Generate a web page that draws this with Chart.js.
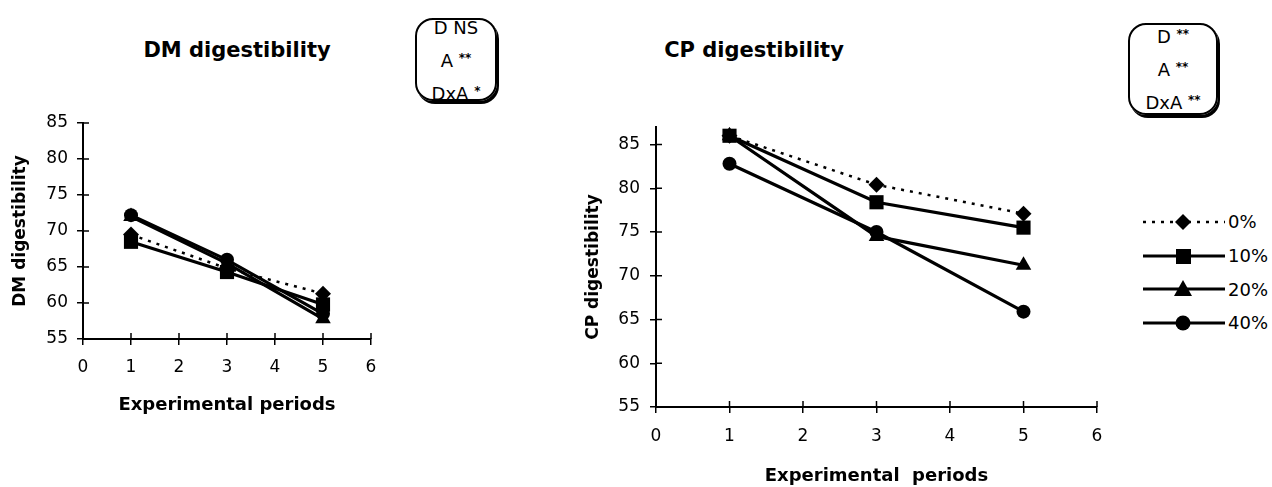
<!DOCTYPE html>
<html><head><meta charset="utf-8">
<script src="https://cdn.jsdelivr.net/npm/chart.js@4.4.1/dist/chart.umd.min.js"></script>
<style>
html,body{margin:0;padding:0;background:#fff;}
body{width:1272px;height:487px;position:relative;overflow:hidden;font-family:"DejaVu Sans",sans-serif;color:#000;}
.title{position:absolute;font-weight:bold;font-size:21px;white-space:nowrap;transform:translate(-50%,-50%);}
.box{position:absolute;border:2px solid #000;border-radius:18px;box-shadow:2px 3px 0 #000;text-align:center;font-size:18px;line-height:31px;box-sizing:border-box;overflow:visible;}
.box .in{position:relative;}
.box sup{font-size:12px;vertical-align:5px;font-weight:bold;}
.cw{position:absolute;top:0;height:487px;}
#legend{position:absolute;left:1141px;top:205px;}
.lrow{height:33.7px;display:flex;align-items:center;font-size:18px;}
.lrow svg{margin-right:1px;}
</style>
</head><body>
<div class="title" style="left:237px;top:50px;">DM digestibility</div>
<div class="title" style="left:754px;top:50px;">CP digestibility</div>
<div class="box" style="left:415px;top:18px;width:82px;height:83px;"><div class="in" style="top:-8px;">D NS<br>A <sup>**</sup><br>DxA <sup>*</sup></div></div>
<div class="box" style="left:1128px;top:23px;width:90px;height:92px;"><div class="in" style="top:-6px;">D <sup>**</sup><br>A <sup>**</sup><br>DxA <sup>**</sup></div></div>
<div class="cw" style="left:0;width:400px;"><canvas id="c1"></canvas></div>
<div class="cw" style="left:540px;width:590px;"><canvas id="c2"></canvas></div>
<div id="legend"></div>
<script>
// ---- data ----
const periods = [1, 3, 5];
const seriesLabels = ['0%', '10%', '20%', '40%'];
const dm0  = [69.5, 64.8, 61.3];
const dm10 = [68.5, 64.3, 59.8];
const dm20 = [72.0, 65.5, 57.8];
const dm40 = [72.2, 66.0, 58.5];
const cp0  = [86.0, 80.4, 77.1];
const cp10 = [86.0, 78.4, 75.5];
const cp20 = [86.0, 74.5, 71.2];
const cp40 = [82.8, 75.0, 65.9];
const xTicks = [0, 1, 2, 3, 4, 5, 6];
const yTicks = [55, 60, 65, 70, 75, 80, 85];

const styles = [
  {pointStyle:'rectRot', radius:8, dash:[3,6], width:2.5},
  {pointStyle:'rect', radius:10, dash:[], width:3.2},
  {pointStyle:'triangle', radius:9, dash:[], width:3.2},
  {pointStyle:'circle', radius:7, dash:[], width:3.2}
];

function makeSets(arrs){
  return arrs.map((a,i)=>({
    label: seriesLabels[i],
    data: a.map((v,j)=>({x:periods[j], y:v})),
    borderColor:'#000', backgroundColor:'#000',
    borderWidth: styles[i].width, borderDash: styles[i].dash,
    pointStyle: styles[i].pointStyle, pointRadius: styles[i].radius,
    pointBorderWidth:0, pointBackgroundColor:'#000', tension:0
  }));
}

const crossTicks = {
  id:'crossTicks',
  afterDatasetsDraw(chart){
    const {ctx, chartArea, scales:{x,y}} = chart;
    ctx.save(); ctx.strokeStyle='#000'; ctx.lineWidth=1.5;
    x.ticks.forEach(t=>{const px=x.getPixelForValue(t.value); ctx.beginPath(); ctx.moveTo(px, chartArea.bottom); ctx.lineTo(px, chartArea.bottom-6); ctx.stroke();});
    y.ticks.forEach(t=>{const py=y.getPixelForValue(t.value); ctx.beginPath(); ctx.moveTo(chartArea.left, py); ctx.lineTo(chartArea.left+6, py); ctx.stroke();});
    ctx.restore();
  }
};

const FONT = 'DejaVu Sans';
function makeChart(id, sets, cfg){
  return new Chart(document.getElementById(id), {
    type:'line',
    data:{datasets: sets},
    options:{
      responsive:true, maintainAspectRatio:false, animation:false,
      layout:{padding:{top:cfg.top, right:cfg.right, bottom:cfg.bottom, left:0}},
      plugins:{legend:{display:false}, tooltip:{enabled:false}},
      scales:{
        x:{type:'linear', min:0, max:6,
          afterBuildTicks(s){ s.ticks = xTicks.map(v=>({value:v})); },
          afterFit(s){ s.height = cfg.xH; },
          grid:{drawOnChartArea:false, drawTicks:true, tickLength:6, color:'#000', lineWidth:1.5},
          border:{display:true, color:'#000', width:2},
          ticks:{color:'#000', font:{family:FONT, size:17}, padding:cfg.xPad, maxRotation:0},
          title:{display:true, text:cfg.xTitle, color:'#000', font:{family:FONT, size:18, weight:'bold'}, padding:{top:0,bottom:0}}
        },
        y:{type:'linear', min:55, max:cfg.yMax,
          afterBuildTicks(s){ s.ticks = yTicks.map(v=>({value:v})); },
          afterFit(s){ s.width = cfg.yW; },
          grid:{drawOnChartArea:false, drawTicks:true, tickLength:6, color:'#000', lineWidth:1.5},
          border:{display:true, color:'#000', width:2},
          ticks:{color:'#000', font:{family:FONT, size:17}, padding:cfg.yPad},
          title:{display:true, text:cfg.yTitle, color:'#000', font:{family:FONT, size:17, weight:'bold'}, padding:{top:cfg.yTitleTop, bottom:0}}
        }
      }
    },
    plugins:[crossTicks]
  });
}

makeChart('c1', makeSets([dm0, dm10, dm20, dm40]), {
  top:123, right:29, bottom:71, xH:77, xPad:12, xTitle:'Experimental periods',
  yMax:85, yW:83, yPad:9, yTitle:'DM digestibility', yTitleTop:10
});
makeChart('c2', makeSets([cp0, cp10, cp20, cp40]), {
  top:127, right:33, bottom:0, xH:80, xPad:13, xTitle:'Experimental  periods',
  yMax:87, yW:116, yPad:10, yTitle:'CP digestibility', yTitleTop:43
});

// legend
const legend = document.getElementById('legend');
const shapes = [
  '<polygon points="42,3 50,11 42,19 34,11" fill="#000"/>',
  '<rect x="35" y="4" width="15" height="15" fill="#000"/>',
  '<polygon points="42,2 51,18 33,18" fill="#000"/>',
  '<circle cx="42" cy="11" r="7.5" fill="#000"/>'
];
seriesLabels.forEach((lab,i)=>{
  const dash = styles[i].dash.length ? 'stroke-dasharray="3,6"' : '';
  const w = styles[i].width;
  const row = document.createElement('div');
  row.className='lrow';
  row.innerHTML = '<svg width="86" height="22"><line x1="2" y1="11" x2="84" y2="11" stroke="#000" stroke-width="'+w+'" '+dash+'/>'+shapes[i]+'</svg><span>'+lab+'</span>';
  legend.appendChild(row);
});
</script>
</body></html>
